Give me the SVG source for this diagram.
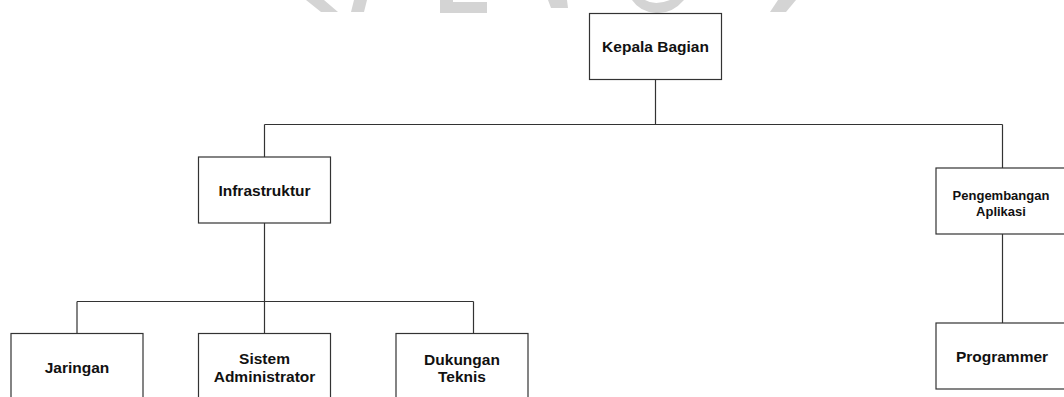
<svg xmlns="http://www.w3.org/2000/svg" width="1064" height="397" viewBox="0 0 1064 397">
<style>
  .box { fill: #ffffff; stroke: #333333; stroke-width: 1.2; }
  .conn { fill: none; stroke: #333333; stroke-width: 1.2; }
  .lbl { font-family: "Liberation Sans", Arial, sans-serif; font-weight: bold; font-size: 15.5px; fill: #111111; text-anchor: middle; }
  .sm { font-size: 13px; }
  .wm { fill: #d4d4d4; }
</style>
<rect width="1064" height="397" fill="#ffffff"/>
<g id="watermark">
  <polygon class="wm" points="306,0 324,0 338,12 321,12"/>
  <polygon class="wm" points="354,0 367,0 364,12 351,12"/>
  <polygon class="wm" points="440,0 453,0 453,2 487,2 487,13 440,13"/>
  <polygon class="wm" points="548,0 567,0 568,8 551,8"/>
  <path class="wm" d="M632,0 L645,0 Q655,6 670,0 L684,0 Q672,14 656,13 Q640,12 632,0 Z"/>
  <polygon class="wm" points="778,0 796,0 786,12 770,12"/>
</g>
<g id="connectors">
  <path class="conn" d="M655.5,79.5 V124.5 M264.5,124.5 H1002.5 M264.5,124.5 V157 M1002.5,124.5 V168"/>
  <path class="conn" d="M264.5,223 V333.5 M77,301.5 H473.5 M77,301.5 V333.5 M473.5,301.5 V333.5"/>
  <path class="conn" d="M1002.5,234 V323"/>
</g>
<g id="kepala-bagian">
  <rect class="box" x="589.5" y="13.5" width="132" height="66"/>
  <text class="lbl" x="655.5" y="51.5">Kepala Bagian</text>
</g>
<g id="infrastruktur">
  <rect class="box" x="198.5" y="157" width="132" height="66"/>
  <text class="lbl" x="264.5" y="195.5">Infrastruktur</text>
</g>
<g id="pengembangan-aplikasi">
  <rect class="box" x="936" y="168" width="132" height="66"/>
  <text class="lbl sm" x="1001" y="199.5">Pengembangan</text>
  <text class="lbl sm" x="1001" y="215.5">Aplikasi</text>
</g>
<g id="programmer">
  <rect class="box" x="936" y="323" width="132" height="66"/>
  <text class="lbl" x="1002" y="361.5">Programmer</text>
</g>
<g id="jaringan">
  <rect class="box" x="11" y="333.5" width="132" height="66"/>
  <text class="lbl" x="77" y="372.5">Jaringan</text>
</g>
<g id="sistem-administrator">
  <rect class="box" x="198.5" y="333.5" width="132" height="66"/>
  <text class="lbl" x="264.5" y="364">Sistem</text>
  <text class="lbl" x="264.5" y="381.5">Administrator</text>
</g>
<g id="dukungan-teknis">
  <rect class="box" x="396" y="333.5" width="132" height="66"/>
  <text class="lbl" x="462" y="364.5">Dukungan</text>
  <text class="lbl" x="462" y="381.5">Teknis</text>
</g>
</svg>
